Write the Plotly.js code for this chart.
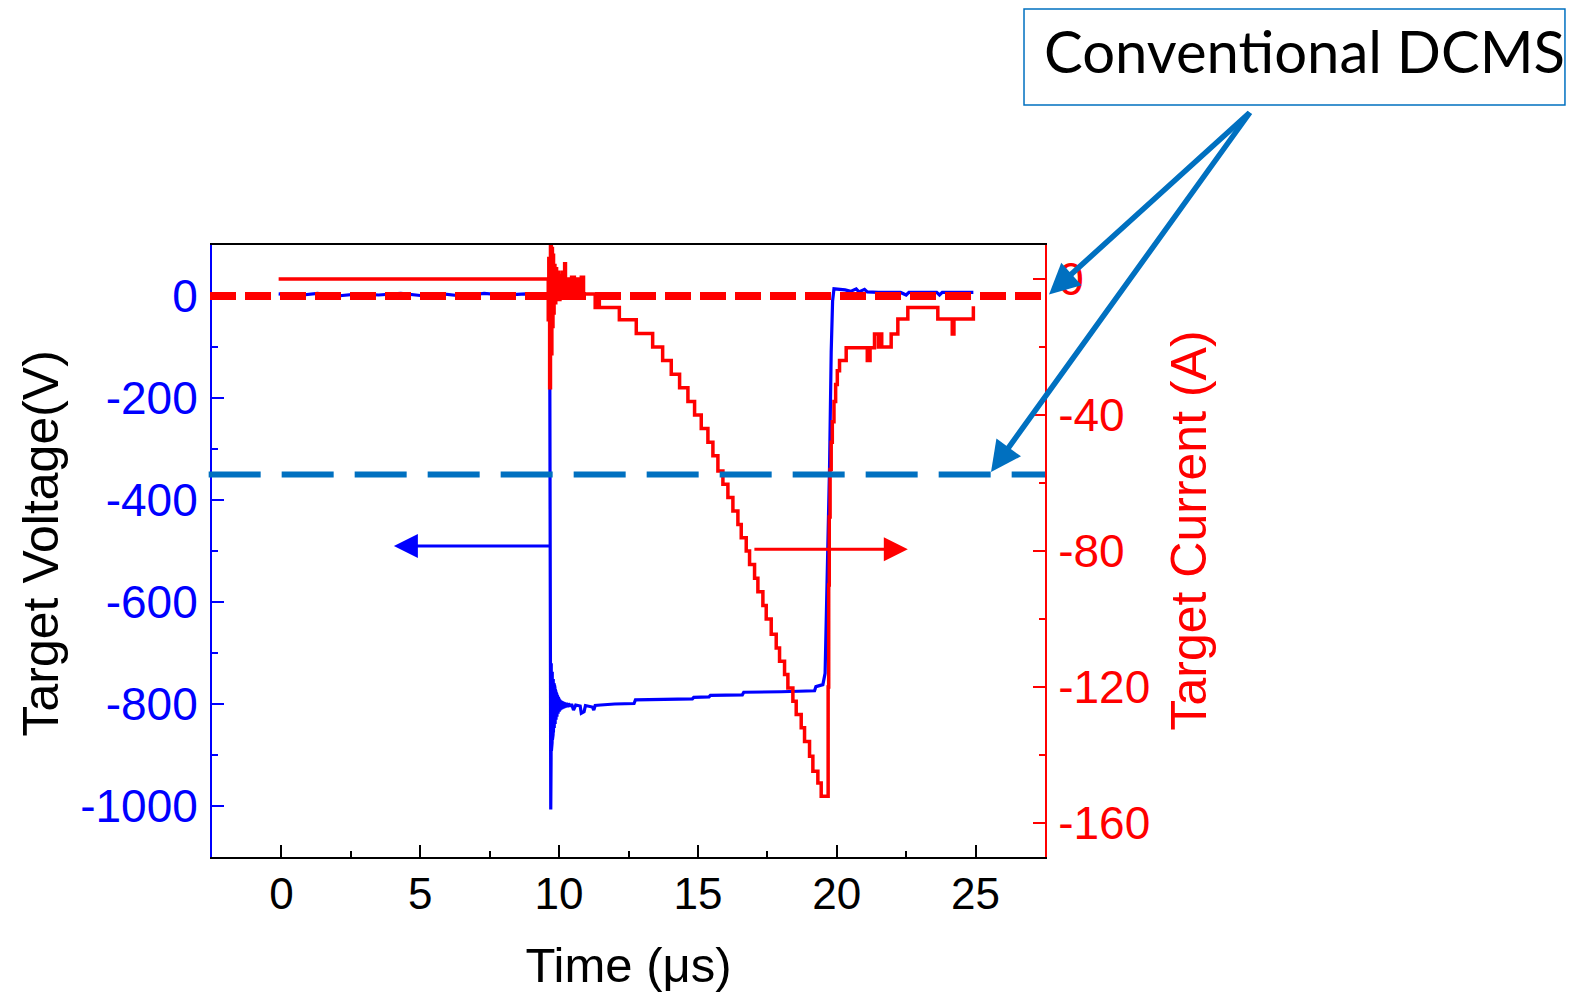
<!DOCTYPE html>
<html>
<head>
<meta charset="utf-8">
<script src="https://cdn.plot.ly/plotly-3.0.1.min.js"></script>
<style>html,body{margin:0;padding:0;background:#fff;}#chart{width:1586px;height:992px;}</style>
</head>
<body>
<div id="chart"></div>
<script>
// ---- Data ----
// Target voltage (V) vs time (µs)
const voltageTime = [-0.1, 0.6, 1.3, 2.0, 2.8, 3.5, 4.3, 5.0, 5.8, 6.5, 7.3, 8.0, 8.8, 9.4, 9.66,
  9.700, 9.706, 9.712, 9.718, 9.724, 9.730, 9.736, 9.742, 9.748, 9.754, 9.760, 9.766, 9.772, 9.778,
  9.784, 9.790, 9.796, 9.802, 9.810, 9.818, 9.826, 9.834, 9.842, 9.850, 9.858, 9.866, 9.874, 9.882,
  9.890, 9.898, 9.906, 9.914, 9.924, 9.934, 9.944, 9.954, 9.964, 9.974, 9.984, 9.994, 10.006, 10.02,
  10.034, 10.05, 10.066, 10.082, 10.1, 10.12, 10.14, 10.16, 10.18, 10.2, 10.23, 10.26, 10.3, 10.34, 10.4,
  10.45, 10.52, 10.6, 10.76, 10.8, 10.9, 10.95, 11.2, 11.25, 11.3, 11.5, 12.0, 12.7, 12.75, 14.8, 14.85,
  15.4, 15.45, 16.6, 16.65, 18.0, 19.2, 19.25, 19.5, 19.58, 19.66, 19.74, 19.8, 19.85, 19.9,
  20.3, 20.5, 20.7, 20.8, 21.0, 21.1, 21.5, 22.3, 22.5, 22.6, 23.6, 23.7, 23.8, 24.5, 24.92];
const voltageValue = [4, 1, 5, 0, 4, 2, 5, 1, 4, 0, 5, 2, 4, 1, 3,
  -1007, -715, -905, -720, -892, -725, -884, -730, -876, -737, -870, -742, -864, -747,
  -860, -751, -856, -755, -852, -759, -847, -763, -843, -768, -839, -772, -835, -775,
  -831, -778, -828, -780, -825, -783, -822, -786, -819, -788, -817, -790, -815, -791,
  -813, -793, -811, -794, -810, -795, -809, -796, -808, -797, -807, -798, -806, -799, -805,
  -800, -812, -802, -804, -818, -815, -803, -806, -812, -803, -802, -800, -799, -792, -790, -787,
  -786, -783, -782, -777, -776, -774, -766, -762, -740, -550, -336, -110, -10, 14,
  12, 9, 14, 8, 13, 8, 7, 7, 2, 7, 7, 2, 7, 7, 7];

// Target current (A) vs time (µs)
const currentTime = [-0.1, 9.58, 9.61, 9.63, 9.66, 9.69, 9.72, 9.74, 9.76, 9.78, 9.8, 9.82, 9.85,
  9.88, 9.91, 9.95, 9.99, 10.03, 10.07, 10.12, 10.17, 10.2, 10.23, 10.3, 10.38, 10.45, 10.55,
  10.62, 10.7, 10.8, 10.88, 11.3, 11.4, 11.45, 12.17, 12.78, 13.37, 13.73, 14.04, 14.34, 14.64,
  14.88, 15.12, 15.36, 15.54, 15.72, 15.9, 16.08, 16.26, 16.44, 16.56, 16.74, 16.86, 17.04,
  17.16, 17.34, 17.46, 17.64, 17.82, 17.94, 18.12, 18.24, 18.42, 18.54, 18.72, 18.84, 19.02,
  19.14, 19.32, 19.44, 19.69, 19.71, 19.73, 19.76, 19.8, 19.84, 19.9, 19.96, 20.02, 20.1,
  20.34, 21.1, 21.2, 21.36, 21.5, 21.56, 21.62, 21.96, 22.2, 22.56, 23.64, 24.16, 24.22, 24.92];
const currentValue = [0, 0, -12, 6, -32, 11, -22, 9, -14, 7, -10, 4, -7,
  3, -6, 2, -6, 1, -5, 2, -5, 4.5, -5, 0, -5.5, 0.5, -5.5,
  0, -5, 0.5, -4.4, -8.4, -6.5, -8.4, -12, -16, -20, -24, -28, -32, -36,
  -40, -44, -48, -52, -56.5, -60.4, -64.3, -68.2, -72.2, -76.1, -80, -84, -88,
  -92, -96, -100, -104.5, -108.5, -112.4, -116.3, -120.3, -124.2, -128.1, -132, -136, -140.4,
  -144.8, -148.2, -152.1, -120, -90, -70, -56, -48, -42, -36, -31, -27, -24,
  -20.2, -24, -20.2, -16.2, -20, -16.2, -20, -16.2, -11.8, -8.4, -11.8, -16.2, -11.8, -8];

// Conventional DCMS reference levels
const dcmsVoltage = -350;   // V
const dcmsCurrent = -5;     // A

// Axis ticks (labels use a plain hyphen as in the original)
const timeTicks = [0, 5, 10, 15, 20, 25];
const timeTickText = ['0', '5', '10', '15', '20', '25'];
const voltageTicks = [0, -200, -400, -600, -800, -1000];
const voltageTickText = ['0', '-200', '-400', '-600', '-800', '-1000'];
const currentTicks = [0, -40, -80, -120, -160];
const currentTickText = ['0', '-40', '-80', '-120', '-160'];

// Direction arrows (which axis each curve belongs to)
const voltArrow = {from: 9.69, to: 4.05, level: -490};
const currArrow = {from: 16.98, to: 22.56, level: -79.5};

// ---- Styling ----
const BLUE = '#0000ff', RED = '#ff0000', DCMS_BLUE = '#0070c0';
const FONT = 'Liberation Sans, Arial, sans-serif';

const traces = [
  {x: voltageTime, y: voltageValue, type: 'scatter', mode: 'lines', yaxis: 'y',
   line: {color: BLUE, width: 3.2}, hoverinfo: 'x+y', name: 'Voltage'},
  {x: currentTime, y: currentValue, type: 'scatter', mode: 'lines', yaxis: 'y2',
   line: {color: RED, width: 3.5, shape: 'hv'}, hoverinfo: 'x+y', name: 'Current'}
];

const layout = {
  width: 1586, height: 992,
  margin: {l: 212, r: 541, t: 245, b: 135},
  paper_bgcolor: '#fff', plot_bgcolor: '#fff',
  showlegend: false,
  font: {family: FONT, color: '#000'},
  xaxis: {
    range: [-2.5, 27.5], tickvals: timeTicks, ticktext: timeTickText, ticks: 'inside', ticklen: 12, tickwidth: 2,
    tickcolor: '#000', showline: true, linecolor: '#000', linewidth: 2, mirror: true,
    showgrid: false, zeroline: false,
    tickfont: {family: FONT, size: 44, color: '#000'}, ticklabelstandoff: -3,
    minor: {dtick: 2.5, ticks: 'inside', ticklen: 6, tickwidth: 2, tickcolor: '#000', showgrid: false},
    title: {text: 'Time (μs)', font: {family: FONT, size: 49, color: '#000'}, standoff: 33}
  },
  yaxis: {
    range: [-1100, 100], tickvals: voltageTicks, ticktext: voltageTickText, ticks: 'inside', ticklen: 12, tickwidth: 2,
    tickcolor: BLUE, showline: true, linecolor: BLUE, linewidth: 2,
    showgrid: false, zeroline: false,
    tickfont: {family: FONT, size: 46, color: BLUE}, ticklabelstandoff: 3,
    minor: {dtick: 100, ticks: 'inside', ticklen: 6, tickwidth: 2, tickcolor: BLUE, showgrid: false}
  },
  yaxis2: {
    range: [-170, 10], tickvals: currentTicks, ticktext: currentTickText, overlaying: 'y', side: 'right',
    ticks: 'inside', ticklen: 12, tickwidth: 2, tickcolor: RED,
    showline: true, linecolor: RED, linewidth: 2, showgrid: false, zeroline: false,
    tickfont: {family: FONT, size: 46, color: RED}, ticklabelstandoff: 2,
    minor: {dtick: 20, ticks: 'inside', ticklen: 6, tickwidth: 2, tickcolor: RED, showgrid: false}
  },
  shapes: [
    {type: 'line', xref: 'paper', yref: 'y2', x0: -0.0024, x1: 1, y0: dcmsCurrent, y1: dcmsCurrent,
     line: {color: RED, width: 8, dash: '26px,9px'}, layer: 'above'},
    {type: 'line', xref: 'paper', yref: 'y', x0: -0.004, x1: 1, y0: dcmsVoltage, y1: dcmsVoltage,
     line: {color: DCMS_BLUE, width: 6, dash: '52px,21px'}, layer: 'above'},
    {type: 'rect', xref: 'paper', yref: 'paper', x0: 0.9748, x1: 1.6242, y0: 1.2288, y1: 1.3856,
     line: {color: DCMS_BLUE, width: 1.5}, fillcolor: 'rgba(0,0,0,0)'}
  ],
  annotations: [
    // axis titles for the two y axes
    {xref: 'paper', yref: 'paper', x: -0.2059, y: 0.5131, xanchor: 'center', yanchor: 'middle',
     text: 'Target Voltage(V)', textangle: -90, showarrow: false,
     font: {family: FONT, size: 50, color: '#000'}},
    {xref: 'paper', yref: 'paper', x: 1.1723, y: 0.5327, xanchor: 'center', yanchor: 'middle',
     text: 'Target Current (A)', textangle: -90, showarrow: false,
     font: {family: FONT, size: 50, color: RED}},
    {xref: 'paper', yref: 'paper', x: 1.3115, y: 1.317, xanchor: 'center', yanchor: 'middle',
     text: 'Conventional DCMS', showarrow: false,
     font: {family: 'Lato, Open Sans, sans-serif', size: 58, color: '#000'}},
    {xref: 'paper', yref: 'paper', x: 1.0048, y: 0.9193, ax: 202, ay: -183, axref: 'pixel', ayref: 'pixel',
     text: '', showarrow: true, arrowhead: 2, arrowsize: 1.1, arrowwidth: 5.5, arrowcolor: DCMS_BLUE},
    {xref: 'paper', yref: 'paper', x: 0.9352, y: 0.6291, ax: 260, ay: -361, axref: 'pixel', ayref: 'pixel',
     text: '', showarrow: true, arrowhead: 2, arrowsize: 1.1, arrowwidth: 5.5, arrowcolor: DCMS_BLUE},
    {xref: 'x', yref: 'y', axref: 'x', ayref: 'y', x: voltArrow.to, y: voltArrow.level,
     ax: voltArrow.from, ay: voltArrow.level, text: '', showarrow: true,
     arrowhead: 2, arrowsize: 1.6, arrowwidth: 3, arrowcolor: BLUE},
    {xref: 'x', yref: 'y2', axref: 'x', ayref: 'y2', x: currArrow.to, y: currArrow.level,
     ax: currArrow.from, ay: currArrow.level, text: '', showarrow: true,
     arrowhead: 2, arrowsize: 1.6, arrowwidth: 3, arrowcolor: RED}
  ]
};

Plotly.newPlot('chart', traces, layout, {displayModeBar: false, staticPlot: true});
</script>
</body>
</html>
